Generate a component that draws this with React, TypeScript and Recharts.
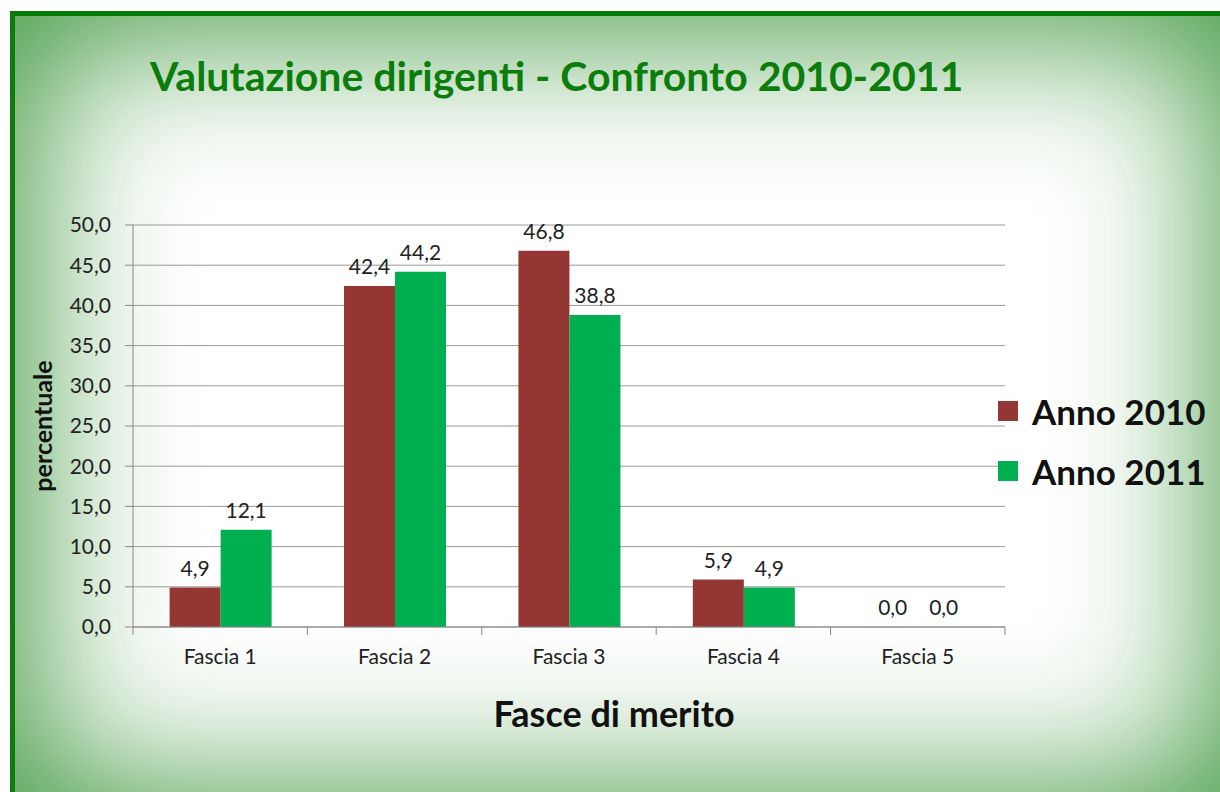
import { BarChart, Bar, XAxis, YAxis, CartesianGrid, LabelList, Legend } from "recharts";

const categories = ["Fascia 1", "Fascia 2", "Fascia 3", "Fascia 4", "Fascia 5"];
const anno2010 = [4.9, 42.4, 46.8, 5.9, 0.0];
const anno2011 = [12.1, 44.2, 38.8, 4.9, 0.0];
const yTicks = [0, 5, 10, 15, 20, 25, 30, 35, 40, 45, 50];

const data = categories.map((name, i) => ({ name, a2010: anno2010[i], a2011: anno2011[i] }));

const RED = "#943634";
const GREEN = "#00B050";
const FONT = "Lato, 'Open Sans', sans-serif";

const W = 1220;
const H = 792;
const M = { top: 225, right: 215, bottom: 125, left: 73 };
const Y_W = 60;
const BAND = (W - M.left - Y_W - M.right) / categories.length;

const fmt = (v: number) => v.toFixed(1).replace(".", ",");

// Excel-style x tick: label centred, tick marks between categories
function XTick(props: any) {
  const { x, y, payload, index } = props;
  const left = x - BAND / 2;
  return (
    <g>
      <line x1={left} y1={y - 8} x2={left} y2={y} stroke="#888" />
      {index === categories.length - 1 && (
        <line x1={left + BAND} y1={y - 8} x2={left + BAND} y2={y} stroke="#888" />
      )}
      <text x={x} y={y + 29} textAnchor="middle" fontSize={21} fill="#222" fontFamily={FONT}>
        {payload.value}
      </text>
    </g>
  );
}

function LegendBox() {
  const items = [
    { label: "Anno 2010", color: RED },
    { label: "Anno 2011", color: GREEN },
  ];
  return (
    <div style={{ position: "absolute", left: 998, top: 381, fontFamily: FONT }}>
      {items.map((it) => (
        <div key={it.label} style={{ display: "flex", alignItems: "center", height: 60 }}>
          <div style={{ width: 20, height: 20, background: it.color, marginRight: 14 }} />
          <span style={{ fontSize: 35, fontWeight: 700, color: "#111" }}>{it.label}</span>
        </div>
      ))}
    </div>
  );
}

const labelStyle = { fontSize: 21, fill: "#222", fontFamily: FONT };

export default function App() {
  return (
    <div style={{ position: "absolute", left: 0, top: 0, width: W, height: H, background: "#fff", overflow: "hidden" }}>
      <div
        style={{
          position: "absolute",
          left: 10,
          top: 11,
          width: W,
          height: H,
          borderTop: "5px solid #037A03",
          borderLeft: "5px solid #0F7A0F",
          boxShadow: "inset 0 0 150px 22px rgba(60,150,60,0.95)",
          background: "#fff",
        }}
      />
      <div
        style={{
          position: "absolute",
          left: 150,
          top: 51,
          fontFamily: FONT,
          fontWeight: 700,
          fontSize: 41,
          color: "#0A7D0A",
          whiteSpace: "nowrap",
        }}
      >
        Valutazione dirigenti - Confronto 2010-2011
      </div>
      <div
        style={{
          position: "absolute",
          left: 42,
          top: 426,
          transform: "translate(-50%, -50%) rotate(-90deg)",
          fontFamily: FONT,
          fontWeight: 700,
          fontSize: 25,
          color: "#111",
          whiteSpace: "nowrap",
        }}
      >
        percentuale
      </div>
      <div
        style={{
          position: "absolute",
          left: 614,
          top: 713,
          transform: "translate(-50%, -50%)",
          fontFamily: FONT,
          fontWeight: 700,
          fontSize: 36,
          color: "#111",
          whiteSpace: "nowrap",
        }}
      >
        Fasce di merito
      </div>
      <div style={{ position: "absolute", left: 0, top: 0 }}>
        <BarChart width={W} height={H} data={data} margin={M} barGap={0} barCategoryGap="21%">
          <CartesianGrid vertical={false} stroke="#9a9a9a" />
          <XAxis
            dataKey="name"
            height={40}
            tickLine={false}
            axisLine={{ stroke: "#888" }}
            tick={<XTick />}
            interval={0}
          />
          <YAxis
            width={Y_W}
            domain={[0, 50]}
            ticks={yTicks}
            tickFormatter={fmt}
            tickSize={8}
            tickMargin={14}
            tickLine={{ stroke: "#888" }}
            axisLine={{ stroke: "#888" }}
            tick={{ fontSize: 21, fill: "#222", fontFamily: FONT }}
            interval={0}
          />
          <Bar dataKey="a2010" name="Anno 2010" fill={RED} minPointSize={0.01} isAnimationActive={false}>
            <LabelList dataKey="a2010" position="top" offset={12} formatter={(v: any) => fmt(Number(v))} style={labelStyle} />
          </Bar>
          <Bar dataKey="a2011" name="Anno 2011" fill={GREEN} minPointSize={0.01} isAnimationActive={false}>
            <LabelList dataKey="a2011" position="top" offset={12} formatter={(v: any) => fmt(Number(v))} style={labelStyle} />
          </Bar>
          <Legend content={() => null} />
        </BarChart>
      </div>
      <LegendBox />
    </div>
  );
}
